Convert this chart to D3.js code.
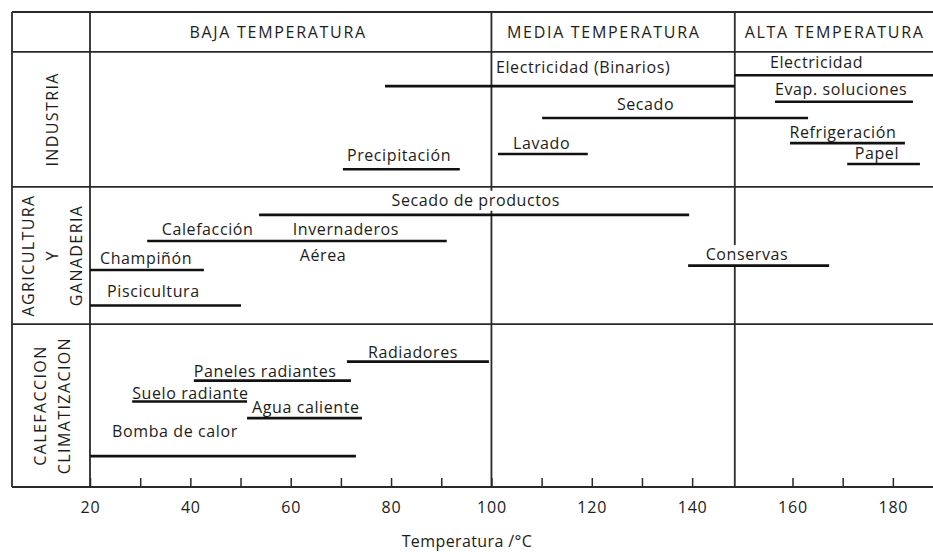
<!DOCTYPE html>
<html>
<head>
<meta charset="utf-8">
<script src="https://cdn.jsdelivr.net/npm/d3@7"></script>
<style>
  body { margin: 0; background: #fff; }
  text { font-family: "Open Sans", sans-serif; fill: #1c1c1c; }
</style>
</head>
<body>
<div id="chart"></div>
<script>
// usos de la energia geotermica (rango de temperatura en ºC y nivel vertical en % de la altura)
var usos = ["Electricidad (Binarios)", "Electricidad", "Evap. soluciones", "Secado", "Refrigeración",
            "Papel", "Lavado", "Precipitación", "Secado de productos", "Calefacción Invernaderos",
            "Champiñón", "Piscicultura", "Conservas", "Radiadores", "Paneles radiantes",
            "Suelo radiante", "Agua caliente", "Bomba de calor"]
var tempMin = [78.8, 148.5, 156.5, 110.1, 159.5, 170.9, 101.3, 70.4, 53.7, 31.4, 20, 20, 139.2, 71.2, 40.7, 28.4, 51.3, 20]
var tempMax = [148.5, 190, 184.0, 163.1, 182.4, 185.4, 119.2, 93.7, 139.4, 91.1, 42.7, 50.1, 167.3, 99.5, 72.0, 51.3, 74.2, 73.0]
var nivel = [15.6, 13.3, 18.9, 22.3, 27.6, 32.0, 29.9, 33.1, 42.7, 48.2, 54.3, 61.8, 53.4, 73.6, 77.6, 82.0, 85.5, 93.5]

// textos de las barras: temperatura donde empieza el texto y nivel de la linea base
var etiquetas = ["Electricidad (Binarios)", "Electricidad", "Evap. soluciones", "Secado", "Refrigeración",
                 "Papel", "Lavado", "Precipitación", "Secado de productos", "Calefacción", "Invernaderos",
                 "Aérea", "Champiñón", "Piscicultura", "Conservas", "Radiadores", "Paneles radiantes",
                 "Suelo radiante", "Agua caliente", "Bomba de calor"]
var etiquetaTemp = [100.9, 155.5, 156.5, 125.0, 159.4, 172.4, 104.3, 71.2, 80.1, 34.3, 60.4,
                    61.8, 22.0, 23.4, 142.7, 75.4, 40.7, 28.4, 52.3, 24.4]
var etiquetaNivel = [12.8, 11.8, 17.5, 20.6, 26.5, 31.0, 28.8, 31.3, 40.8, 46.9, 46.9,
                     52.4, 53.1, 60.0, 52.2, 72.8, 76.8, 81.5, 84.4, 89.5]

// cabecera de rangos de temperatura
var rangos = ["BAJA TEMPERATURA", "MEDIA TEMPERATURA", "ALTA TEMPERATURA"]
var rangoCentro = [57.5, 122.4, 168.4]
var divisiones = [100, 148.5]

// sectores (filas) y sus limites en % de la altura
var sectores = [["INDUSTRIA"], ["AGRICULTURA", "Y", "GANADERIA"], ["CALEFACCION", "CLIMATIZACION"]]
var limites = [0, 8.4, 36.8, 65.7, 100]

// marcas del eje
var marcas = [20, 30, 40, 50, 60, 70, 80, 90, 100, 110, 120, 130, 140, 160, 170, 180]
var marcasTexto = [20, 40, 60, 80, 100, 120, 140, 160, 180]

var widthSvg = 933
var heightSvg = 552
var izq = 12
var colSector = 90

var svg = d3.select("#chart")
            .append("svg")
            .attr("width", widthSvg)
            .attr("height", heightSvg);

var x = d3.scaleLinear().domain([20, 188]).range([colSector, 933]);
var y = d3.scaleLinear().domain([0, 100]).range([12, 487]);

var rejilla = svg.append("g").attr("stroke", "#2a2a2a").attr("stroke-width", 1.8);
var mascaras = svg.append("g");
var barras = svg.append("g");
var textos = svg.append("g");

// lineas horizontales de la tabla
rejilla.selectAll("line.h")
  .data(limites)
  .enter()
  .append("line")
  .attr("x1", izq)
  .attr("x2", widthSvg)
  .attr("y1", function(d) { return y(d); })
  .attr("y2", function(d) { return y(d); });

// lineas verticales: borde izquierdo, columna de sectores y divisiones
rejilla.append("line").attr("x1", izq).attr("x2", izq).attr("y1", y(0)).attr("y2", y(100));
rejilla.selectAll("line.v")
  .data([20].concat(divisiones))
  .enter()
  .append("line")
  .attr("x1", function(d) { return x(d); })
  .attr("x2", function(d) { return x(d); })
  .attr("y1", y(0))
  .attr("y2", y(100));

// eje de temperatura
var ejeX = d3.axisBottom(x)
  .tickValues(marcas)
  .tickSizeInner(-9)
  .tickSizeOuter(0)
  .tickPadding(14.5)
  .tickFormat(function(d) { return marcasTexto.indexOf(d) >= 0 ? d : ""; });

var gEje = svg.append("g")
  .attr("transform", "translate(0," + y(100) + ")")
  .call(ejeX);
gEje.select(".domain").remove();
gEje.selectAll("line").attr("stroke", "#2a2a2a").attr("stroke-width", 1.5);
gEje.selectAll("text")
  .style("font-family", "'Open Sans', sans-serif")
  .style("font-size", "16px")
  .style("letter-spacing", "0.8px")
  .attr("fill", "#1c1c1c");

svg.append("text")
  .attr("x", 467)
  .attr("y", 547)
  .attr("text-anchor", "middle")
  .style("font-size", "16px")
  .style("letter-spacing", "0.4px")
  .text("Temperatura /°C");

// cabecera
svg.selectAll("text.rango")
  .data(rangos)
  .enter()
  .append("text")
  .attr("x", function(d, i) { return x(rangoCentro[i]); })
  .attr("y", (y(limites[0]) + y(limites[1])) / 2)
  .attr("dy", "0.36em")
  .attr("text-anchor", "middle")
  .style("font-size", "16px")
  .style("letter-spacing", "1.7px")
  .text(function(d) { return d; });

// nombres de sectores en vertical
sectores.forEach(function(lineas, i) {
  var cy = (y(limites[i + 1]) + y(limites[i + 2])) / 2;
  var cx = (izq + colSector) / 2 + 1;
  var salto = 24;
  lineas.forEach(function(t, j) {
    var px = cx + (j - (lineas.length - 1) / 2) * salto;
    svg.append("text")
      .attr("transform", "translate(" + px + "," + cy + ") rotate(-90)")
      .attr("text-anchor", "middle")
      .attr("dy", "0.36em")
      .style("font-size", "16px")
      .style("letter-spacing", "1.4px")
      .text(t);
  });
});

// barras de rango
barras.selectAll("line")
  .data(usos)
  .enter()
  .append("line")
  .attr("x1", function(d, i) { return x(tempMin[i]); })
  .attr("x2", function(d, i) { return x(tempMax[i]); })
  .attr("y1", function(d, i) { return y(nivel[i]); })
  .attr("y2", function(d, i) { return y(nivel[i]); })
  .attr("stroke", "#111")
  .attr("stroke-width", 2.6);

// textos de las barras, con fondo blanco que tapa la rejilla
textos.selectAll("text")
  .data(etiquetas)
  .enter()
  .append("text")
  .attr("x", function(d, i) { return x(etiquetaTemp[i]); })
  .attr("y", function(d, i) { return y(etiquetaNivel[i]); })
  .style("font-size", "16px")
  .style("letter-spacing", "0.6px")
  .text(function(d) { return d; })
  .each(function() {
    var b = this.getBBox();
    mascaras.append("rect")
      .attr("x", b.x - 2)
      .attr("y", b.y + 2)
      .attr("width", b.width + 4)
      .attr("height", b.height - 2)
      .attr("fill", "#fff");
  });
</script>
</body>
</html>
